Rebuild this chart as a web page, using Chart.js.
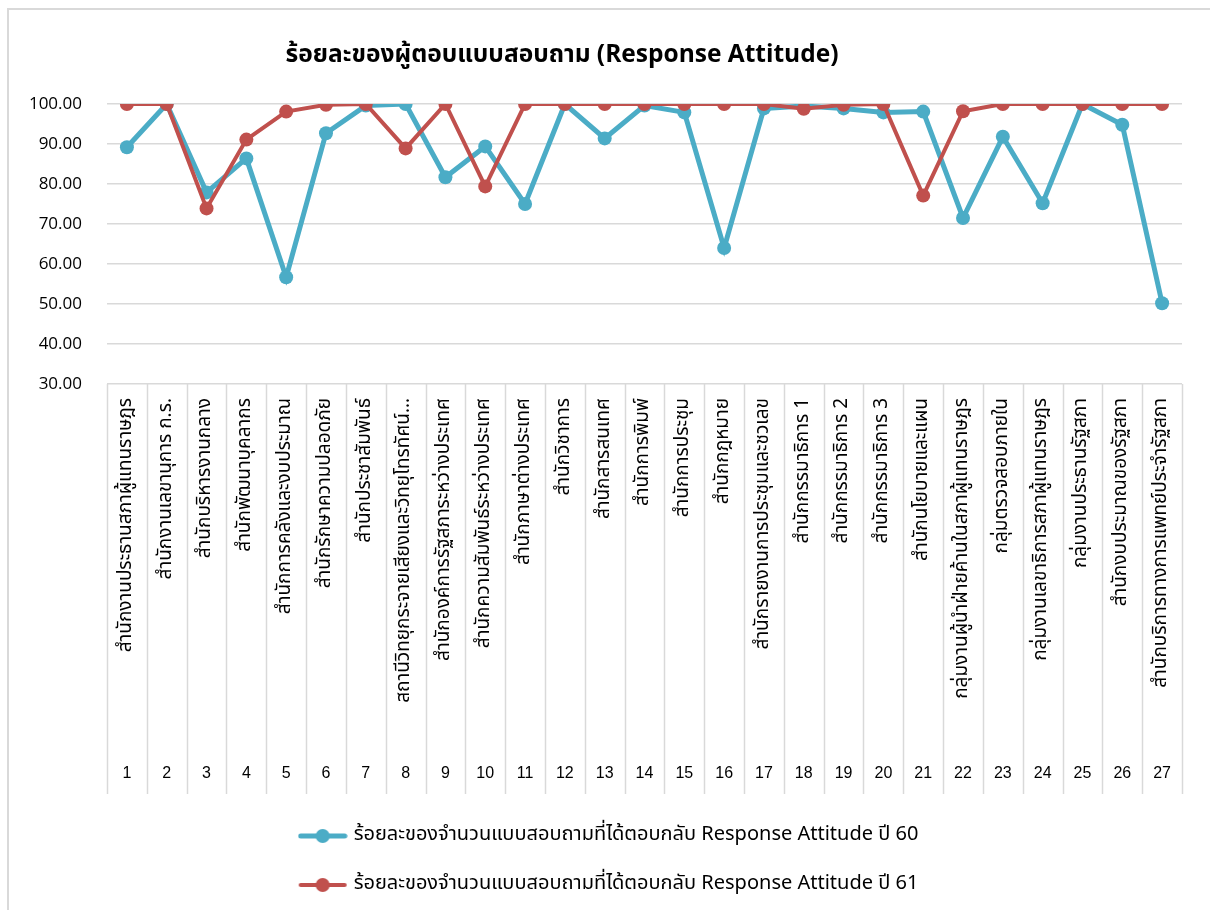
<!DOCTYPE html>
<html>
<head>
<meta charset="utf-8">
<script src="https://cdn.jsdelivr.net/npm/chart.js@4/dist/chart.umd.min.js"></script>
<style>
  html, body { margin: 0; padding: 0; background: #fff; }
  #wrap { position: relative; width: 1210px; height: 910px; }
</style>
</head>
<body>
<div id="wrap"><canvas id="myChart" width="1210" height="910"></canvas></div>
<script>
const categories = [
  'สำนักงานประธานสภาผู้แทนราษฎร',
  'สำนักงานเลขานุการ ก.ร.',
  'สำนักบริหารงานกลาง',
  'สำนักพัฒนาบุคลากร',
  'สำนักการคลังและงบประมาณ',
  'สำนักรักษาความปลอดภัย',
  'สำนักประชาสัมพันธ์',
  'สถานีวิทยุกระจายเสียงและวิทยุโทรทัศน์…',
  'สำนักองค์การรัฐสภาระหว่างประเทศ',
  'สำนักความสัมพันธ์ระหว่างประเทศ',
  'สำนักภาษาต่างประเทศ',
  'สำนักวิชาการ',
  'สำนักสารสนเทศ',
  'สำนักการพิมพ์',
  'สำนักการประชุม',
  'สำนักกฎหมาย',
  'สำนักรายงานการประชุมและชวเลข',
  'สำนักกรรมาธิการ 1',
  'สำนักกรรมาธิการ 2',
  'สำนักกรรมาธิการ 3',
  'สำนักนโยบายและแผน',
  'กลุ่มงานผู้นำฝ่ายค้านในสภาผู้แทนราษฎร',
  'กลุ่มตรวจสอบภายใน',
  'กลุ่มงานเลขาธิการสภาผู้แทนราษฎร',
  'กลุ่มงานประธานรัฐสภา',
  'สำนักงบประมาณของรัฐสภา',
  'สำนักบริการทางการแพทย์ประจำรัฐสภา'
];
const numbers = ['1','2','3','4','5','6','7','8','9','10','11','12','13','14','15','16','17','18','19','20','21','22','23','24','25','26','27'];

const year60 = [89.2, 100, 77.9, 86.4, 56.7, 92.7, 99.6, 100, 81.7, 89.4, 75.0, 100, 91.4, 99.6, 97.9, 64.0, 98.9, 99.5, 98.9, 97.9, 98.1, 71.5, 91.8, 75.2, 100, 94.8, 50.2];
const year61 = [100, 100, 73.9, 91.1, 98.1, 99.8, 100, 88.9, 100, 79.4, 100, 100, 100, 100, 100, 100, 100, 98.8, 99.8, 100, 77.1, 98.2, 100, 100, 100, 100, 100];

const seriesNames = [
  'ร้อยละของจำนวนแบบสอบถามที่ได้ตอบกลับ Response Attitude ปี 60',
  'ร้อยละของจำนวนแบบสอบถามที่ได้ตอบกลับ Response Attitude ปี 61'
];
const title = 'ร้อยละของผู้ตอบแบบสอบถาม (Response Attitude)';

const blue = '#4BACC6';
const red = '#C0504D';
const gridColor = '#d9d9d9';
const thaiFont = "Tahoma, 'Leelawadee UI', 'Noto Sans Thai', 'Noto Sans', sans-serif";

// line with a dot in the middle, a bit wider than the legend box so it sits close to the text
function legendSymbol(color, lw) {
  const c = document.createElement('canvas');
  c.width = 50; c.height = 16;
  const g = c.getContext('2d');
  g.strokeStyle = color;
  g.lineWidth = lw;
  g.lineCap = 'round';
  g.beginPath(); g.moveTo(3, 8); g.lineTo(47, 8); g.stroke();
  g.fillStyle = color;
  g.beginPath(); g.arc(25, 8, 7, 0, Math.PI * 2); g.fill();
  return c;
}

// outer frame, chart title, category separators
const decor = {
  id: 'decor',
  afterLayout(chart) {
    // nudge the legend a little right/down like the original
    const lg = chart.legend;
    lg.left += 14; lg.right += 14;
    lg.top += 3; lg.bottom += 3;
  },
  beforeDraw(chart) {
    const ctx = chart.ctx;
    ctx.save();
    ctx.strokeStyle = gridColor;
    ctx.lineWidth = 2;
    ctx.strokeRect(8, 9, 1400, 1100);
    ctx.restore();
  },
  afterDraw(chart) {
    const ctx = chart.ctx;
    const x = chart.scales.x;
    const x2 = chart.scales.x2;
    const half = (x.getPixelForValue(1) - x.getPixelForValue(0)) / 2;
    ctx.save();
    ctx.strokeStyle = gridColor;
    ctx.lineWidth = 1.5;
    for (let i = 0; i <= categories.length; i++) {
      const px = Math.round(x.getPixelForValue(i) - half) + 0.5;
      ctx.beginPath();
      ctx.moveTo(px, chart.chartArea.bottom);
      ctx.lineTo(px, x2.bottom);
      ctx.stroke();
    }
    ctx.fillStyle = '#000';
    ctx.font = "bold 24.5px " + thaiFont;
    ctx.textAlign = 'center';
    ctx.textBaseline = 'middle';
    ctx.fillText(title, 562, 57);
    ctx.restore();
  }
};

const ctx = document.getElementById('myChart').getContext('2d');
const myChart = new Chart(ctx, {
  type: 'line',
  data: {
    labels: categories,
    datasets: [
      {
        label: seriesNames[0],
        data: year60,
        borderColor: blue,
        backgroundColor: blue,
        borderWidth: 5,
        pointRadius: 7,
        pointBorderWidth: 0,
        pointBackgroundColor: blue,
        tension: 0,
        order: 1
      },
      {
        label: seriesNames[1],
        data: year61,
        borderColor: red,
        backgroundColor: red,
        borderWidth: 4,
        pointRadius: 7,
        pointBorderWidth: 0,
        pointBackgroundColor: red,
        tension: 0,
        order: 0
      }
    ]
  },
  options: {
    responsive: false,
    animation: false,
    layout: { padding: { left: 10, right: 28, top: 104, bottom: 8 } },
    plugins: {
      tooltip: { enabled: false },
      title: { display: false },
      legend: {
        position: 'bottom',
        labels: {
          usePointStyle: true,
          pointStyleWidth: 42,
          padding: 29,
          color: '#000',
          font: { size: 20, family: thaiFont },
          generateLabels(chart) {
            return chart.data.datasets.map((ds, i) => ({
              text: ds.label,
              datasetIndex: i,
              pointStyle: legendSymbol(ds.borderColor, ds.borderWidth),
              fillStyle: ds.borderColor,
              strokeStyle: ds.borderColor,
              lineWidth: 0,
              hidden: false
            }));
          }
        }
      }
    },
    scales: {
      y: {
        min: 30,
        max: 100,
        ticks: {
          stepSize: 10,
          padding: 25,
          color: '#000',
          font: { size: 17, family: "'Open Sans', 'Noto Sans', sans-serif" },
          callback: v => v.toFixed(2)
        },
        grid: { color: gridColor, lineWidth: 1.5, drawTicks: false },
        border: { display: false },
        afterFit: s => { s.width = 97; }
      },
      x: {
        type: 'category',
        offset: true,
        weight: 0,
        ticks: {
          autoSkip: false,
          minRotation: 90,
          maxRotation: 90,
          padding: 14,
          color: '#000',
          font: { size: 19, family: thaiFont }
        },
        grid: { display: false, drawTicks: false },
        border: { display: false },
        afterFit: s => { s.height = 372; }
      },
      x2: {
        type: 'category',
        position: 'bottom',
        labels: numbers,
        offset: true,
        weight: 1,
        ticks: {
          autoSkip: false,
          maxRotation: 0,
          padding: 8,
          color: '#000',
          font: { size: 16, family: "'Liberation Sans', Arial, sans-serif" }
        },
        grid: { display: false, drawTicks: false },
        border: { display: false },
        afterFit: s => { s.height = 38; }
      }
    }
  },
  plugins: [decor]
});
</script>
</body>
</html>
